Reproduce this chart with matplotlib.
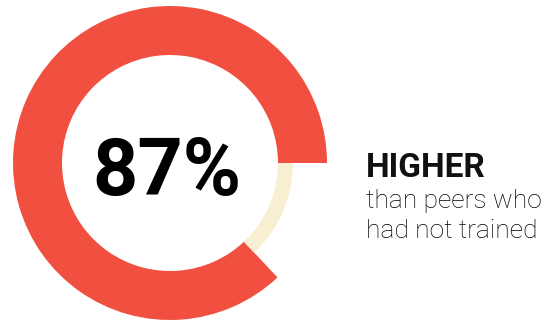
import matplotlib
matplotlib.use("Agg")
import matplotlib.pyplot as plt
from matplotlib.patches import Wedge

# data
labels = ["trained", "not trained"]
shares = [87, 13]
colors = ["#F15041", "#F8EFD3"]
big_text = "87%"
head_text = "HIGHER"
sub_lines = ["than peers who", "had not trained"]

fig = plt.figure(figsize=(5.5, 3.2), dpi=100)
ax = fig.add_axes([0, 0, 1, 1])
ax.set_xlim(0, 550)
ax.set_ylim(320, 0)
ax.set_aspect("equal")
ax.axis("off")

cx, cy = 170, 163
r_in = 108
r_out = [157, 123]

# ring, counterclockwise from 3 o'clock (y axis is flipped, so angles go negative)
start = 0.0
for val, col, ro in zip(shares, colors, r_out):
    sweep = 360.0 * val / sum(shares)
    ax.add_patch(Wedge((cx, cy), ro, -(start + sweep), -start,
                       width=ro - r_in, facecolor=col, edgecolor="none"))
    start += sweep

ax.text(cx - 3, 195, big_text, ha="center", va="baseline",
        fontsize=57, fontweight="bold", family="Roboto", color="black")

ax.text(366, 177, head_text, ha="left", va="baseline",
        fontsize=24, fontweight="bold", family="Roboto", color="#111111")
for i, s in enumerate(sub_lines):
    ax.text(366, 208 + 30 * i, s, ha="left", va="baseline",
            fontsize=19, fontweight="light", family="Roboto", color="black")

fig.savefig("out.png", dpi=100)
